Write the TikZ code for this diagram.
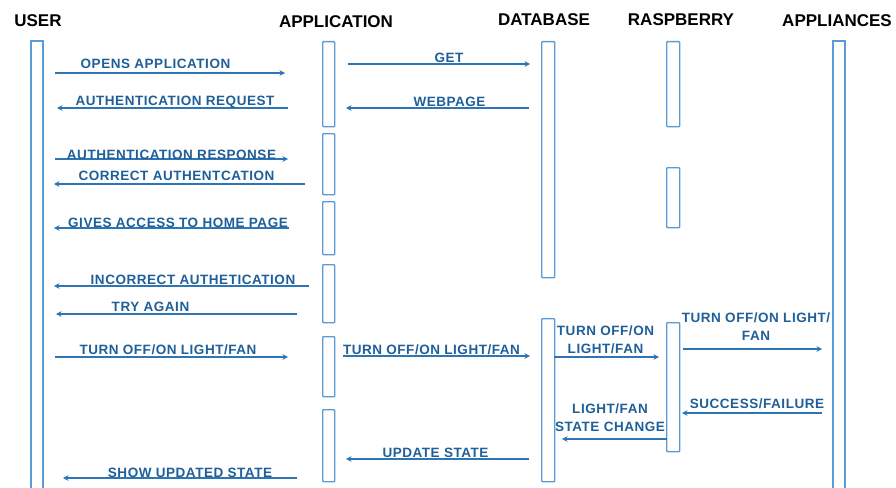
\documentclass[tikz,border=0pt]{standalone}
\usepackage{fontspec}
\setmainfont{Liberation Sans}
\newfontfamily\msgfont[LetterSpace=4]{Liberation Sans}
\usetikzlibrary{arrows.meta}
\definecolor{boxblue}{HTML}{5B9BD5}
\definecolor{msgblue}{HTML}{2E75B6}
\definecolor{txtblue}{HTML}{1F5F99}

\begin{document}
\begin{tikzpicture}[x=1pt,y=-1pt,
  actor/.style={font=\bfseries\fontsize{17}{20}\selectfont, text=black, inner sep=0pt, anchor=base},
  lifebox/.style={draw=boxblue, line width=1.4pt, fill=white, rounded corners=0.8pt, inner sep=0pt, anchor=north west},
  lifeline/.style={draw=boxblue, line width=1.4pt},
  msg/.style={draw=msgblue, line width=1.25pt, -{Stealth[length=5.5pt,width=5.5pt]}},
  lbl/.style={font=\msgfont\bfseries\fontsize{13.5}{18}\selectfont, text=txtblue, inner sep=0pt, anchor=base},
  lbl2/.style={font=\msgfont\bfseries\fontsize{13.5}{18}\selectfont, text=txtblue, inner sep=0pt, anchor=north, align=center},
]
\useasboundingbox (0,0) rectangle (896,487);

% participants
\node[actor] (huser) at (38,27) {USER};
\node[actor] (happ)  at (336,28) {APPLICATION};
\node[actor] (hdb)   at (544,26) {DATABASE};
\node[actor] (hrpi)  at (681,26) {RASPBERRY};
\node[actor] (happl) at (837,27) {APPLIANCES};

% open-ended lifelines
\draw[lifeline] (31,488) -- (31,41) -- (43,41) -- (43,488);
\draw[lifeline] (833,488) -- (833,41) -- (845,41) -- (845,488);

% activation boxes
\node[lifebox, minimum width=12pt, minimum height=85pt] (app1) at (322,41) {};
\node[lifebox, minimum width=12pt, minimum height=61pt] (app2) at (322,133) {};
\node[lifebox, minimum width=12pt, minimum height=53pt] (app3) at (322,201) {};
\node[lifebox, minimum width=12pt, minimum height=58pt] (app4) at (322,264) {};
\node[lifebox, minimum width=12pt, minimum height=60pt] (app5) at (322,336) {};
\node[lifebox, minimum width=12pt, minimum height=72pt] (app6) at (322,409) {};
\node[lifebox, minimum width=13pt, minimum height=236pt] (db1) at (541,41) {};
\node[lifebox, minimum width=13pt, minimum height=163pt] (db2) at (541,318) {};
\node[lifebox, minimum width=13pt, minimum height=85pt] (rpi1) at (666,41) {};
\node[lifebox, minimum width=13pt, minimum height=60pt] (rpi2) at (666,167) {};
\node[lifebox, minimum width=13pt, minimum height=129pt] (rpi3) at (666,322) {};

% message end points
\coordinate (m1a) at (55,73);   \coordinate (m1b) at (285,73);
\coordinate (m2a) at (288,108); \coordinate (m2b) at (57,108);
\coordinate (m3a) at (55,159);  \coordinate (m3b) at (288,159);
\coordinate (m4a) at (305,184); \coordinate (m4b) at (54,184);
\coordinate (m5a) at (289,228); \coordinate (m5b) at (54,228);
\coordinate (m6a) at (309,286); \coordinate (m6b) at (54,286);
\coordinate (m7a) at (297,314); \coordinate (m7b) at (56,314);
\coordinate (m8a) at (55,357);  \coordinate (m8b) at (288,357);
\coordinate (m9a) at (297,478); \coordinate (m9b) at (63,478);
\coordinate (g1a) at (348,64);  \coordinate (g1b) at (530,64);
\coordinate (g2a) at (529,108); \coordinate (g2b) at (346,108);
\coordinate (g3a) at (343,356); \coordinate (g3b) at (530,356);
\coordinate (g4a) at (529,459); \coordinate (g4b) at (346,459);
\coordinate (d1a) at (554,357); \coordinate (d1b) at (659,357);
\coordinate (d2a) at (667,439); \coordinate (d2b) at (562,439);
\coordinate (r1a) at (683,349); \coordinate (r1b) at (822,349);
\coordinate (r2a) at (822,413); \coordinate (r2b) at (682,413);

% messages
\draw[msg] (m1a) -- (m1b);
\draw[msg] (m2a) -- (m2b);
\draw[msg] (m3a) -- (m3b);
\draw[msg] (m4a) -- (m4b);
\draw[msg] (m5a) -- (m5b);
\draw[msg] (m6a) -- (m6b);
\draw[msg] (m7a) -- (m7b);
\draw[msg] (m8a) -- (m8b);
\draw[msg] (m9a) -- (m9b);
\draw[msg] (g1a) -- (g1b);
\draw[msg] (g2a) -- (g2b);
\draw[msg] (g3a) -- (g3b);
\draw[msg] (g4a) -- (g4b);
\draw[msg] (d1a) -- (d1b);
\draw[msg] (d2a) -- (d2b);
\draw[msg] (r1a) -- (r1b);
\draw[msg] (r2a) -- (r2b);

% message labels
\node[lbl] (t1) at (155.5,68) {OPENS APPLICATION};
\node[lbl] (t2) at (175,105) {AUTHENTICATION REQUEST};
\node[lbl] (t3) at (171.5,159) {AUTHENTICATION RESPONSE};
\node[lbl] (t4) at (176.5,180) {CORRECT AUTHENTCATION};
\node[lbl] (t5) at (178,227) {GIVES ACCESS TO HOME PAGE};
\node[lbl] (t6) at (193,284) {INCORRECT AUTHETICATION};
\node[lbl] (t7) at (150.5,311) {TRY AGAIN};
\node[lbl] (t8) at (168,354) {TURN OFF/ON LIGHT/FAN};
\node[lbl] (t9) at (190,477) {SHOW UPDATED STATE};
\node[lbl] (u1) at (449,63) {GET};
\node[lbl] (u2) at (449.5,106) {WEBPAGE};
\node[lbl] (u3) at (431.5,354) {TURN OFF/ON LIGHT/FAN};
\node[lbl] (u4) at (435.5,457) {UPDATE STATE};
\node[lbl2] (v1) at (605.5,326) {TURN OFF/ON\\LIGHT/FAN};
\node[lbl2] (v2) at (610,404) {LIGHT/FAN\\STATE CHANGE};
\node[lbl2] (w1) at (756,313) {TURN OFF/ON LIGHT/\\FAN};
\node[lbl] (w2) at (757,408) {SUCCESS/FAILURE};
\end{tikzpicture}
\end{document}
